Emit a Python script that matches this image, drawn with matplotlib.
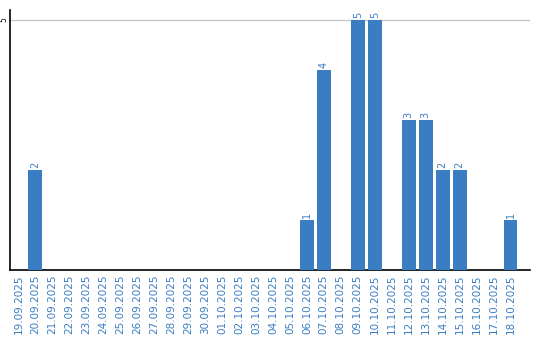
import matplotlib
matplotlib.use('Agg')
from matplotlib import pyplot as plt

dates = ['19.09.2025', '20.09.2025', '21.09.2025', '22.09.2025', '23.09.2025',
         '24.09.2025', '25.09.2025', '26.09.2025', '27.09.2025', '28.09.2025',
         '29.09.2025', '30.09.2025', '01.10.2025', '02.10.2025', '03.10.2025',
         '04.10.2025', '05.10.2025', '06.10.2025', '07.10.2025', '08.10.2025',
         '09.10.2025', '10.10.2025', '11.10.2025', '12.10.2025', '13.10.2025',
         '14.10.2025', '15.10.2025', '16.10.2025', '17.10.2025', '18.10.2025']
counts = [0, 2, 0, 0, 0, 0, 0, 0, 0, 0,
          0, 0, 0, 0, 0, 0, 0, 1, 4, 0,
          5, 5, 0, 3, 3, 2, 2, 0, 0, 1]

blue = '#3a7dc2'

fig = plt.figure(figsize=(5.4, 3.4), dpi=100)
ax = fig.add_axes([10 / 540, 70 / 340, 520 / 540, 260 / 340])

x = list(range(len(dates)))
ax.bar(x, counts, width=0.82, color=blue, zorder=3)

# подписи значений над столбцами
for i, v in enumerate(counts):
    if v > 0:
        ax.text(i, v + 0.04, str(v), rotation=90, ha='center', va='bottom',
                color=blue, fontsize=7)

ax.set_xlim(-0.5, 30.15)
ax.set_ylim(0, 5.2)
ax.set_yticks([5])
ax.set_yticklabels(['5'], rotation=90, va='center', fontsize=5.5)
ax.tick_params(axis='y', length=0, pad=1)
ax.yaxis.grid(True, color='#c8c8c8', linewidth=1, zorder=0)

ax.set_xticks(x)
ax.set_xticklabels(dates, rotation=90, color=blue, fontsize=7.5)
ax.tick_params(axis='x', length=0, pad=3)

for side in ['top', 'right']:
    ax.spines[side].set_visible(False)
ax.spines['left'].set_linewidth(1.2)
ax.spines['bottom'].set_linewidth(1.2)

plt.savefig('out.png', dpi=100)
